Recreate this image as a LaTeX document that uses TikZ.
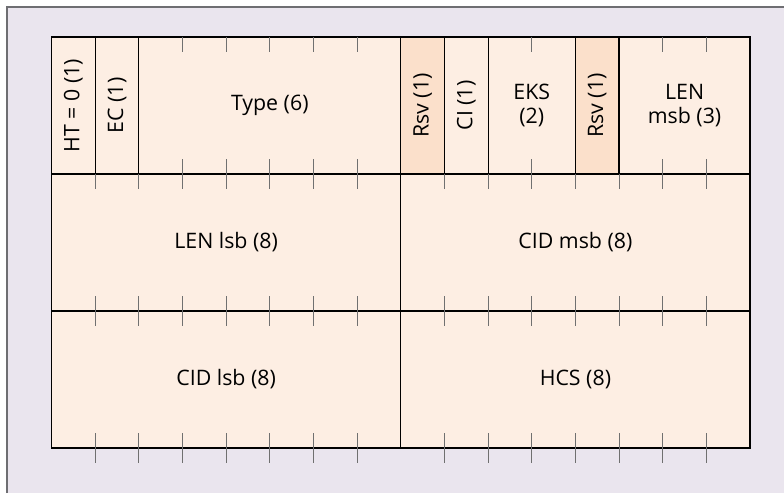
\documentclass[tikz,border=0pt]{standalone}
\usepackage{fontspec}
\setmainfont{Open Sans}
\definecolor{peach}{HTML}{FDEEE3}
\definecolor{rsvpeach}{HTML}{FBE0CB}
\definecolor{lavender}{HTML}{EAE5EE}
\definecolor{framegray}{HTML}{6E6E72}
\definecolor{tickgray}{HTML}{707070}

\begin{document}
\begin{tikzpicture}[x=0.75pt, y=-0.75pt, font=\fontsize{16}{18}\selectfont,
    field/.style={draw, fill=peach, line width=0.9pt, inner sep=0pt, outer sep=0pt,
        anchor=north west, minimum height=102.75pt, align=center},
    rsvfield/.style={field, fill=rsvpeach},
    bits/.style={minimum width=#1*32.745pt},
    tick/.style={draw=tickgray, line width=0.8pt}]
    \useasboundingbox (0,0) rectangle (784,493);
    % Background panel
    \fill[lavender] (6.5,6.5) rectangle (784,493);
    \draw[framegray, line width=1.5pt] (6.5,493) -- (6.5,6.5) -- (784,6.5);

    % First row
    \node[field, bits=1] (HT) at (51.5,37) {\rotatebox{90}{HT = 0 (1)}};
    \node[field, bits=1] (EC) at (95.16,37) {\rotatebox{90}{EC (1)}};
    \node[field, bits=6] (TYPE) at (138.82,37) {Type (6)};
    \node[rsvfield, bits=1] (RSVA) at (400.78,37) {\rotatebox{90}{Rsv (1)}};
    \node[field, bits=1] (CI) at (444.44,37) {\rotatebox{90}{CI (1)}};
    \node[field, bits=2] (EKS) at (488.1,37) {EKS\\(2)};
    \node[rsvfield, bits=1] (RSVB) at (575.42,37) {\rotatebox{90}{Rsv (1)}};
    \node[field, bits=3] (LENMSB) at (619.08,37) {LEN\\msb (3)};

    % Second row
    \node[field, bits=8] (LENLSB) at (51.5,174) {LEN lsb (8)};
    \node[field, bits=8] (CIDMSB) at (400.78,174) {CID msb (8)};

    % Third row
    \node[field, bits=8] (CIDLSB) at (51.5,311) {CID lsb (8)};
    \node[field, bits=8] (HCS) at (400.78,311) {HCS (8)};

    % Bit ticks
    \foreach \k in {3,...,7,11,14,15} {
        \draw[tick] ({51.5+43.66*\k},37) -- ++(0,15);
        \draw[tick] ({51.5+43.66*\k},174) -- ++(0,-15);
    }
    \foreach \k in {1,...,7,9,10,...,15} {
        \draw[tick] ({51.5+43.66*\k},174) -- ++(0,15);
        \draw[tick] ({51.5+43.66*\k},296) -- ++(0,30);
        \draw[tick] ({51.5+43.66*\k},433) -- ++(0,30);
    }
\end{tikzpicture}
\end{document}
